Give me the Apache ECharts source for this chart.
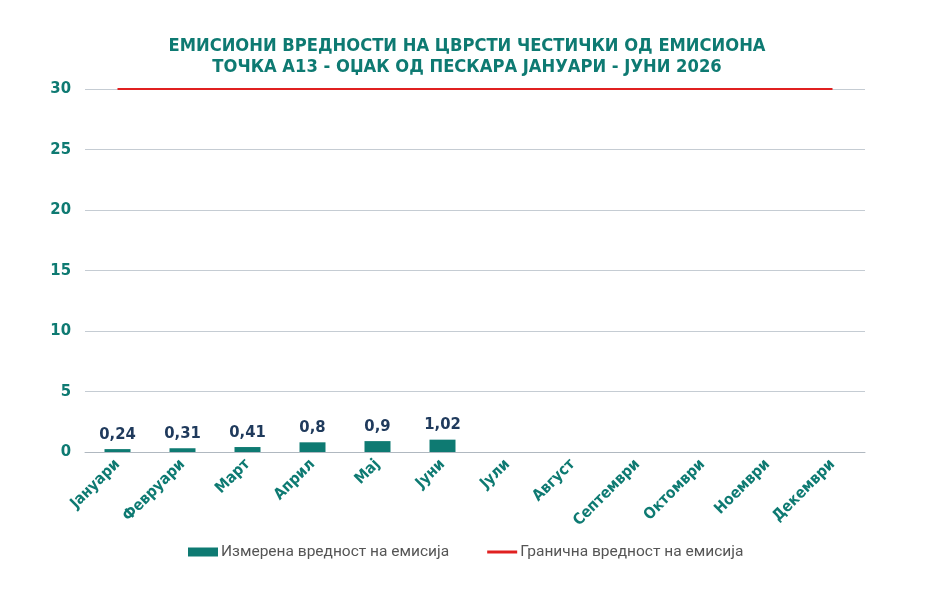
<!DOCTYPE html>
<html>
<head>
<meta charset="utf-8">
<script src="https://cdn.jsdelivr.net/npm/echarts@6/dist/echarts.min.js"></script>
<style>
html, body { margin: 0; padding: 0; background: #fff; }
#main { width: 950px; height: 602px; }
</style>
</head>
<body>
<div id="main"></div>
<script>
var months = ['Јануари', 'Февруари', 'Март', 'Април', 'Мај', 'Јуни', 'Јули', 'Август', 'Септември', 'Октомври', 'Ноември', 'Декември'];
var measured = [0.24, 0.31, 0.41, 0.8, 0.9, 1.02, null, null, null, null, null, null];
var limit = [30, 30, 30, 30, 30, 30, 30, 30, 30, 30, 30, 30];

var teal = '#0e7a72';
var boldFont = '"DejaVu Sans Condensed", sans-serif';
var myChart = echarts.init(document.getElementById('main'));

var option = {
    title: {
        text: 'ЕМИСИОНИ ВРЕДНОСТИ НА ЦВРСТИ ЧЕСТИЧКИ ОД ЕМИСИОНА\nТОЧКА А13 - ОЏАК ОД ПЕСКАРА ЈАНУАРИ - ЈУНИ 2026',
        left: 462,
        textAlign: 'center',
        top: 31,
        textStyle: {
            color: teal,
            fontFamily: boldFont,
            fontWeight: 'bold',
            fontSize: 18.2,
            lineHeight: 21
        }
    },
    legend: {
        bottom: 37,
        left: 183,
        itemGap: 38,
        itemWidth: 30,
        itemHeight: 9,
        textStyle: {
            color: '#555',
            fontFamily: 'Roboto, sans-serif',
            fontSize: 15.5,
            padding: [0, 0, 0, -2]
        },
        data: [
            { name: 'Измерена вредност на емисија', icon: 'rect' },
            { name: 'Гранична вредност на емисија', icon: 'path://M0,0h30v3h-30z', itemStyle: { color: '#e02020' } }
        ]
    },
    grid: {
        left: 85,
        right: 85,
        top: 89,
        bottom: 150
    },
    xAxis: {
        type: 'category',
        data: months,
        axisLine: { lineStyle: { color: '#b0b8c0' } },
        axisTick: { show: false },
        axisLabel: {
            rotate: 45,
            interval: 0,
            color: teal,
            fontWeight: 'bold',
            fontSize: 15.5,
            fontFamily: boldFont,
            margin: 10
        }
    },
    yAxis: {
        type: 'value',
        min: 0,
        max: 30,
        interval: 5,
        axisLine: { show: false },
        axisTick: { show: false },
        splitLine: { lineStyle: { color: '#c5ccd3' } },
        axisLabel: {
            color: teal,
            fontWeight: 'bold',
            fontSize: 16.5,
            fontFamily: boldFont,
            margin: 14
        }
    },
    series: [
        {
            name: 'Измерена вредност на емисија',
            type: 'bar',
            data: measured,
            barWidth: 26,
            itemStyle: { color: teal },
            label: {
                show: true,
                position: 'top',
                distance: 6,
                color: '#1f3a5c',
                fontWeight: 'bold',
                fontSize: 16.5,
                fontFamily: boldFont,
                formatter: function (p) {
                    return String(p.value).replace('.', ',');
                }
            }
        },
        {
            name: 'Гранична вредност на емисија',
            type: 'line',
            data: limit,
            symbol: 'none',
            lineStyle: { color: '#e02020', width: 2 },
            itemStyle: { color: '#e02020' }
        }
    ]
};

myChart.setOption(option);
</script>
</body>
</html>
